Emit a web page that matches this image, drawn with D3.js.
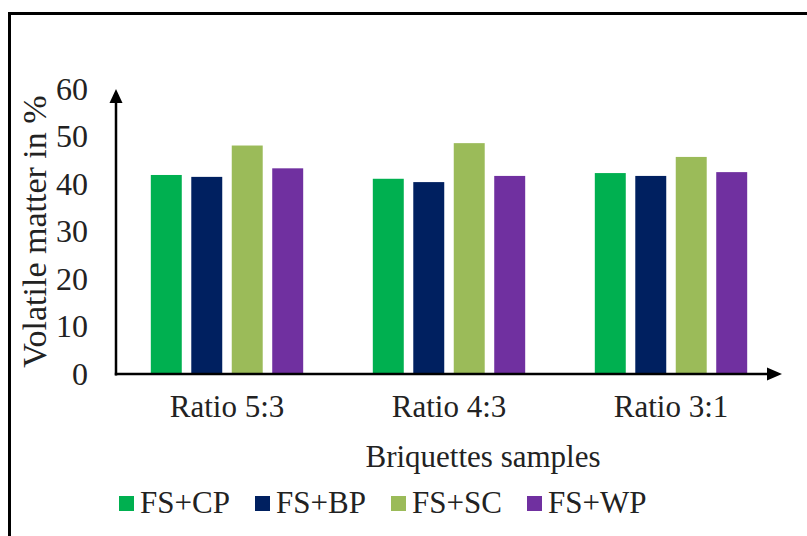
<!DOCTYPE html>
<html>
<head>
<meta charset="utf-8">
<script src="https://cdn.jsdelivr.net/npm/d3@7"></script>
<style>
  html, body { margin: 0; padding: 0; background: #fff; }
  svg { display: block; }
  svg text { font-family: "Liberation Serif", Tinos, "Times New Roman", Times, "DejaVu Serif", serif; fill: #222; }
</style>
</head>
<body>
<svg id="chart" width="807" height="536"></svg>
<script>
// Volatile matter of briquette blends, by mixing ratio
const categories = ["Ratio 5:3", "Ratio 4:3", "Ratio 3:1"];
const seriesNames = ["FS+CP", "FS+BP", "FS+SC", "FS+WP"];
const seriesColors = ["#00B050", "#002060", "#9BBB59", "#7030A0"];
const fsCP = [41.9, 41.1, 42.3];
const fsBP = [41.5, 40.4, 41.7];
const fsSC = [48.1, 48.6, 45.7];
const fsWP = [43.3, 41.7, 42.5];
const yTicks = [0, 10, 20, 30, 40, 50, 60];
const yTitle = "Volatile matter in %";
const xTitle = "Briquettes samples";

const seriesValues = [fsCP, fsBP, fsSC, fsWP];
const serif = '"Liberation Serif", Tinos, "Times New Roman", Times, "DejaVu Serif", serif';

const svg = d3.select("#chart");

// outer frame
svg.append("rect")
  .attr("x", 9.5).attr("y", 13.5)
  .attr("width", 900).attr("height", 700)
  .attr("fill", "none").attr("stroke", "#000").attr("stroke-width", 3);

const plot = { left: 116, right: 782, top: 89, bottom: 374 };

const x0 = d3.scaleBand().domain(categories).range([plot.left, plot.right]);
const x1 = d3.scaleBand().domain(seriesNames)
  .range([0, x0.bandwidth()]).paddingInner(0.235).paddingOuter(0.86);
const y = d3.scaleLinear().domain([0, 60]).range([plot.bottom, plot.top]);

// bars
const groups = svg.append("g").selectAll("g")
  .data(categories).join("g")
  .attr("transform", d => `translate(${x0(d)},0)`);

groups.selectAll("rect")
  .data((c, ci) => seriesNames.map((s, si) => ({ s, si, v: seriesValues[si][ci] })))
  .join("rect")
  .attr("x", d => x1(d.s))
  .attr("width", x1.bandwidth())
  .attr("y", d => y(d.v))
  .attr("height", d => y(0) - y(d.v))
  .attr("fill", d => seriesColors[d.si]);

// y axis tick labels
const yAxis = d3.axisLeft(y).tickValues(yTicks).tickSize(0).tickPadding(28);
const gy = svg.append("g").attr("transform", `translate(${plot.left},0)`).call(yAxis);
gy.attr("font-family", serif);
gy.select(".domain").remove();
gy.selectAll("text").style("font-size", "32px").style("font-family", serif).attr("fill", "#222");

// x axis category labels
const xAxis = d3.axisBottom(x0).tickSize(0).tickPadding(21);
const gx = svg.append("g").attr("transform", `translate(0,${plot.bottom})`).call(xAxis);
gx.attr("font-family", serif);
gx.select(".domain").remove();
gx.selectAll("text").style("font-size", "31px").style("font-family", serif).attr("fill", "#222");

// axis lines with arrowheads
const axisColor = "#000";
svg.append("line")
  .attr("x1", plot.left).attr("y1", plot.bottom + 1.5)
  .attr("x2", plot.left).attr("y2", 100)
  .attr("stroke", axisColor).attr("stroke-width", 2.5);
svg.append("path")
  .attr("d", `M${plot.left},89 L${plot.left - 6.5},103 L${plot.left + 6.5},103 Z`)
  .attr("fill", axisColor);

svg.append("line")
  .attr("x1", plot.left - 1.2).attr("y1", plot.bottom)
  .attr("x2", 770).attr("y2", plot.bottom)
  .attr("stroke", axisColor).attr("stroke-width", 2.5);
svg.append("path")
  .attr("d", `M782,${plot.bottom} L767,${plot.bottom - 6.5} L767,${plot.bottom + 6.5} Z`)
  .attr("fill", axisColor);

// axis titles
svg.append("text")
  .attr("transform", `translate(46,${(plot.top + plot.bottom) / 2}) rotate(-90)`)
  .attr("text-anchor", "middle")
  .style("font-size", "34px").style("font-family", serif)
  .text(yTitle);

svg.append("text")
  .attr("x", 483).attr("y", 467)
  .attr("text-anchor", "middle")
  .style("font-size", "31px").style("font-family", serif)
  .text(xTitle);

// legend
const legend = svg.append("g").attr("transform", "translate(119,0)");
const item = legend.selectAll("g").data(seriesNames).join("g")
  .attr("transform", (d, i) => `translate(${i * 136},0)`);
item.append("rect")
  .attr("x", 0).attr("y", 496).attr("width", 15).attr("height", 15)
  .attr("fill", (d, i) => seriesColors[i]);
item.append("text")
  .attr("x", 21).attr("y", 513)
  .style("font-size", "31px").style("font-family", serif)
  .text(d => d);
</script>
</body>
</html>
